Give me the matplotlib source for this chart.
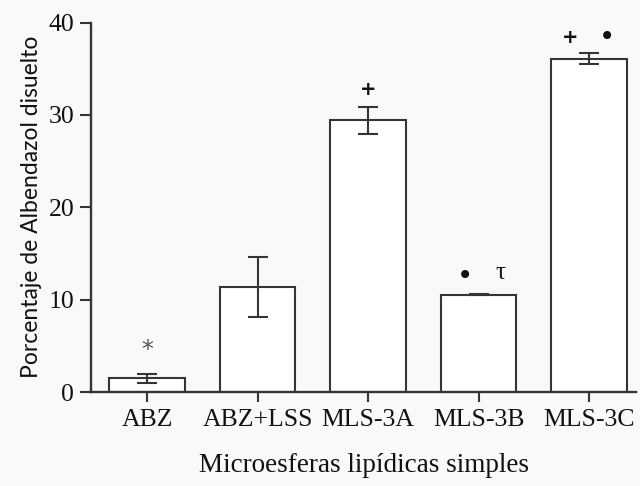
import matplotlib
matplotlib.use('Agg')
import matplotlib.pyplot as plt
import numpy as np

# Disolucion de albendazol por formulacion
formulaciones = ['ABZ', 'ABZ+LSS', 'MLS-3A', 'MLS-3B', 'MLS-3C']
porcentaje = [1.5, 11.4, 29.4, 10.55, 36.1]
error = [0.5, 3.25, 1.45, 0.1, 0.6]

# marcas de significancia: (indice, desplazamiento x, altura, simbolo)
marcas = [
    (0, 0.0, 4.5, '*'),
    (2, 0.0, 32.8, '+'),
    (3, -0.12, 12.6, '•'),
    (3, 0.20, 12.9, 'τ'),
    (4, -0.17, 38.4, '+'),
    (4, 0.16, 38.4, '•'),
]

bg = '#f9f9f9'
ink = '#353535'
serif = ['Liberation Serif', 'DejaVu Serif']

estilo = {
    '*': dict(fontsize=17, color='#555555', family=['DejaVu Sans']),
    '+': dict(fontsize=14, color='#111111', family=['DejaVu Sans'], weight='bold'),
    '•': dict(fontsize=20, color='#111111', family=['DejaVu Sans']),
    'τ': dict(fontsize=18, color='#111111', family=serif),
}

fig = plt.figure(figsize=(6.4, 4.86), dpi=100, facecolor=bg)
ax = fig.add_axes([0.1422, 0.1934, 0.8516, 0.7603])
ax.set_facecolor(bg)

x = np.arange(len(formulaciones))
ax.bar(x, porcentaje, width=0.68, color='white', edgecolor=ink, linewidth=1.5, zorder=2)
ax.errorbar(x, porcentaje, yerr=error, fmt='none', ecolor=ink, elinewidth=1.5,
            capsize=7, capthick=1.5, zorder=3)

for i, dx, h, s in marcas:
    ax.text(x[i] + dx, h, s, ha='center', va='center', zorder=4, **estilo[s])

ax.set_xlim(-0.507, 4.425)
ax.set_ylim(0, 40)
ax.set_yticks([0, 10, 20, 30, 40])
ax.set_xticks(x)
ax.set_xticklabels(formulaciones, family=serif, fontsize=18.5, color='#111111')
for lab in ax.get_yticklabels():
    lab.set_family(serif)
    lab.set_fontsize(18.5)
    lab.set_color('#111111')

for side in ['top', 'right']:
    ax.spines[side].set_visible(False)
for side in ['left', 'bottom']:
    ax.spines[side].set_color(ink)
    ax.spines[side].set_linewidth(1.7)

ax.tick_params(axis='y', length=8, width=1.5, color=ink, pad=4)
ax.tick_params(axis='x', length=7, width=1.5, color=ink, pad=5)

ax.set_xlabel('Microesferas lipídicas simples', family=serif, fontsize=19.5,
              color='#111111', labelpad=16)
ax.set_ylabel('Porcentaje de Albendazol disuelto', family=['Lato', 'DejaVu Sans'],
              fontsize=16.5, color='#111111', labelpad=5)

fig.savefig('out.png', dpi=100, facecolor=bg)
